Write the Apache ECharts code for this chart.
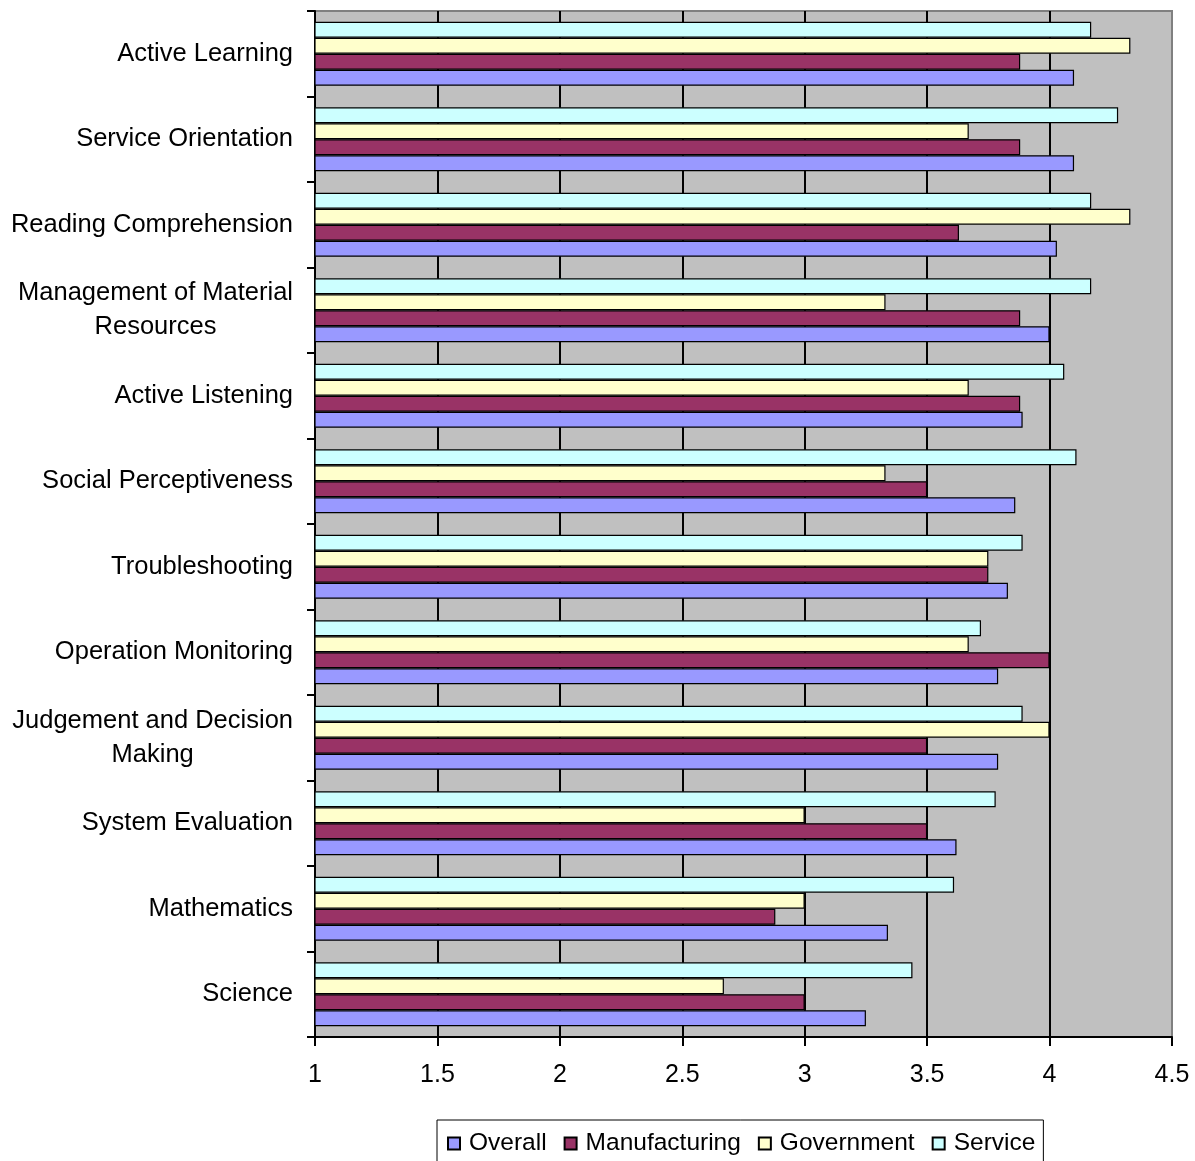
<html>
<head>
<meta charset="utf-8">
<script src="https://cdn.jsdelivr.net/npm/echarts@6/dist/echarts.min.js"></script>
</head>
<body style="margin:0">
<style>
    html, body, #main {
        width: 100%;
        height: 100%;
        margin: 0;
    }
</style>
<div id="main"></div>
<script>
var categories = [
    'Active Learning',
    'Service Orientation',
    'Reading Comprehension',
    'Management of Material\nResources',
    'Active Listening',
    'Social Perceptiveness',
    'Troubleshooting',
    'Operation Monitoring',
    'Judgement and Decision\nMaking',
    'System Evaluation',
    'Mathematics',
    'Science'
];
var seriesNames = ['Overall', 'Manufacturing', 'Government', 'Service'];
var overall = [4.10, 4.10, 4.03, 4.00, 3.89, 3.86, 3.83, 3.79, 3.79, 3.62, 3.34, 3.25];
var manufacturing = [3.88, 3.88, 3.63, 3.88, 3.88, 3.50, 3.75, 4.00, 3.50, 3.50, 2.88, 3.00];
var government = [4.33, 3.67, 4.33, 3.33, 3.67, 3.33, 3.75, 3.67, 4.00, 3.00, 3.00, 2.67];
var service = [4.17, 4.28, 4.17, 4.17, 4.06, 4.11, 3.89, 3.72, 3.89, 3.78, 3.61, 3.44];
var colors = ['#9999FF', '#993366', '#FFFFCC', '#CCFFFF'];

var font = 'Liberation Sans, Arial, sans-serif';
var chart = echarts.init(document.getElementById('main'));

function bar(name, values, color) {
    return {
        name: name,
        type: 'bar',
        data: values,
        barWidth: 16,
        barGap: '0%',
        itemStyle: { color: color, borderColor: '#000', borderWidth: 1.2 }
    };
}

chart.setOption({
    animation: false,
    grid: {
        left: 315, right: 23, top: 11, bottom: 124,
        show: true,
        backgroundColor: '#C0C0C0',
        borderColor: '#808080',
        borderWidth: 2
    },
    legend: {
        data: seriesNames,
        left: 437,
        top: 1120,
        icon: 'rect',
        itemWidth: 12,
        itemHeight: 12,
        itemGap: 17,
        padding: [11, 8, 20, 10],
        borderColor: '#000',
        borderWidth: 1,
        textStyle: { fontSize: 24.5, color: '#000', fontFamily: font, padding: [0, 0, 0, 4] }
    },
    xAxis: {
        type: 'value',
        min: 1,
        max: 4.5,
        interval: 0.5,
        axisLine: { show: true, lineStyle: { color: '#000', width: 2 } },
        axisTick: { show: true, length: 9, lineStyle: { color: '#000', width: 2 } },
        axisLabel: { fontSize: 25, color: '#000', fontFamily: font, margin: 26 },
        splitLine: {
            show: true,
            showMinLine: false,
            showMaxLine: false,
            lineStyle: { color: '#000', width: 2 }
        }
    },
    yAxis: {
        type: 'category',
        data: categories,
        inverse: true,
        axisLine: { show: true, lineStyle: { color: '#000', width: 2 } },
        axisTick: { show: true, length: 8, lineStyle: { color: '#000', width: 2 } },
        axisLabel: {
            margin: 22,
            align: 'right',
            formatter: function (v) {
                return v.split('\n').map(function (s) { return '{c|' + s + '}'; }).join('\n');
            },
            rich: {
                c: { fontSize: 25.5, lineHeight: 34, align: 'center', color: '#000', fontFamily: font }
            }
        },
        splitLine: { show: false }
    },
    // drawn from last to first so that Overall sits at the bottom of each group
    series: [
        bar(seriesNames[3], service, colors[3]),
        bar(seriesNames[2], government, colors[2]),
        bar(seriesNames[1], manufacturing, colors[1]),
        bar(seriesNames[0], overall, colors[0])
    ]
});
</script>
</body>
</html>
